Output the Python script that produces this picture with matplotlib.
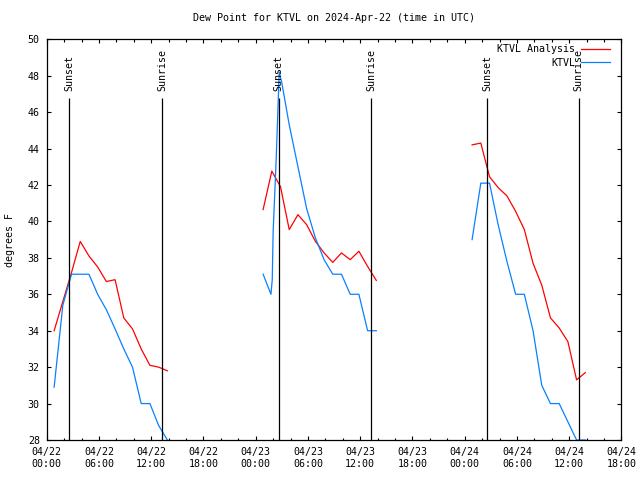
import matplotlib
matplotlib.use("Agg")
import matplotlib.pyplot as plt
from matplotlib.ticker import MultipleLocator

plt.rcParams['font.family'] = ['DejaVu Sans Mono']
plt.rcParams['font.size'] = 7.2

# hours since 04/22 00:00 UTC
anl_t1 = [0.85, 1.85, 2.85, 3.85, 4.85, 5.85, 6.85, 7.85, 8.85, 9.85, 10.85, 11.85, 12.85, 13.85]
anl_v1 = [34.0, 35.6, 37.2, 38.9, 38.1, 37.5, 36.7, 36.8, 34.7, 34.1, 33.0, 32.1, 32.0, 31.8]
anl_t2 = [24.85, 25.85, 26.85, 27.85, 28.85, 29.85, 30.85, 31.85, 32.85, 33.85, 34.85, 35.85, 36.85, 37.85]
anl_v2 = [40.65, 42.76, 41.9, 39.55, 40.37, 39.82, 38.91, 38.27, 37.75, 38.27, 37.9, 38.36, 37.53, 36.76]
anl_t3 = [48.85, 49.85, 50.85, 51.85, 52.85, 53.85, 54.85, 55.85, 56.85, 57.85, 58.85, 59.85, 60.85, 61.85]
anl_v3 = [44.2, 44.3, 42.45, 41.85, 41.4, 40.55, 39.55, 37.7, 36.5, 34.7, 34.15, 33.4, 31.3, 31.7]

obs_t1 = [0.85, 1.85, 2.85, 3.85, 4.85, 5.85, 6.85, 7.85, 8.85, 9.85, 10.85, 11.85, 12.85, 13.85]
obs_v1 = [30.9, 35.4, 37.1, 37.1, 37.1, 36.0, 35.15, 34.1, 33.0, 32.0, 30.0, 30.0, 28.8, 28.0]
obs_t2 = [24.85, 25.75, 25.9, 26.0, 26.35, 26.7, 27.0, 27.85, 28.85, 29.85, 30.85, 31.85,
          32.85, 33.85, 34.85, 35.85, 36.85, 37.85]
obs_v2 = [37.1, 36.0, 36.8, 39.4, 43.4, 48.2, 47.6, 45.3, 43.0, 40.7, 39.1, 37.9,
          37.1, 37.1, 36.0, 36.0, 34.0, 34.0]
obs_t3 = [48.85, 49.85, 50.85, 51.85, 52.85, 53.85, 54.85, 55.85, 56.85, 57.85, 58.85, 59.85, 60.85, 61.85]
obs_v3 = [39.0, 42.1, 42.1, 39.8, 37.8, 36.0, 36.0, 34.0, 31.0, 30.0, 30.0, 29.0, 28.0, 28.0]

sunset = [2.6, 26.65, 50.6]
sunrise = [13.25, 37.28, 61.1]

tick_hours = list(range(0, 67, 6))
tick_labels = ["04/22\n00:00", "04/22\n06:00", "04/22\n12:00", "04/22\n18:00",
               "04/23\n00:00", "04/23\n06:00", "04/23\n12:00", "04/23\n18:00",
               "04/24\n00:00", "04/24\n06:00", "04/24\n12:00", "04/24\n18:00"]

red = '#ff0000'
blue = '#0a80ff'

fig = plt.figure(figsize=(6.4, 4.8), dpi=100)
ax = fig.add_axes([0.073, 0.0833, 0.898, 0.835])

ax.plot(anl_t1, anl_v1, color=red, lw=0.9, label='KTVL Analysis')
ax.plot(anl_t2, anl_v2, color=red, lw=0.9)
ax.plot(anl_t3, anl_v3, color=red, lw=0.9)
ax.plot(obs_t1, obs_v1, color=blue, lw=0.9, label='KTVL')
ax.plot(obs_t2, obs_v2, color=blue, lw=0.9)
ax.plot(obs_t3, obs_v3, color=blue, lw=0.9)

# sunset / sunrise markers
for h in sunset:
    ax.vlines(h, 28, 46.75, color='black', lw=0.9)
    ax.text(h, 47.15, 'Sunset', rotation=90, ha='center', va='bottom')
for h in sunrise:
    ax.vlines(h, 28, 46.75, color='black', lw=0.9)
    ax.text(h, 47.15, 'Sunrise', rotation=90, ha='center', va='bottom')

ax.set_xlim(0, 66)
ax.set_ylim(28, 50)
ax.set_xticks(tick_hours)
ax.set_xticklabels(tick_labels)
ax.xaxis.set_minor_locator(MultipleLocator(2))
ax.set_yticks(range(28, 51, 2))

ax.tick_params(which='both', direction='in', top=True, right=True, width=0.8)
ax.tick_params(which='major', length=3.2)
ax.tick_params(which='minor', length=1.8)
ax.tick_params(axis='y', pad=5)
ax.tick_params(axis='x', pad=5)
for s in ax.spines.values():
    s.set_linewidth(0.9)

ax.set_title('Dew Point for KTVL on 2024-Apr-22 (time in UTC)', pad=13, fontsize=7.2)
ax.set_ylabel('degrees F', labelpad=9)

ax.legend(loc='upper right', bbox_to_anchor=(0.9795, 0.987), frameon=False,
          markerfirst=False, handlelength=2.86, handletextpad=0.57,
          borderaxespad=0, borderpad=0, labelspacing=0.35)

fig.savefig('out.png', dpi=100)
